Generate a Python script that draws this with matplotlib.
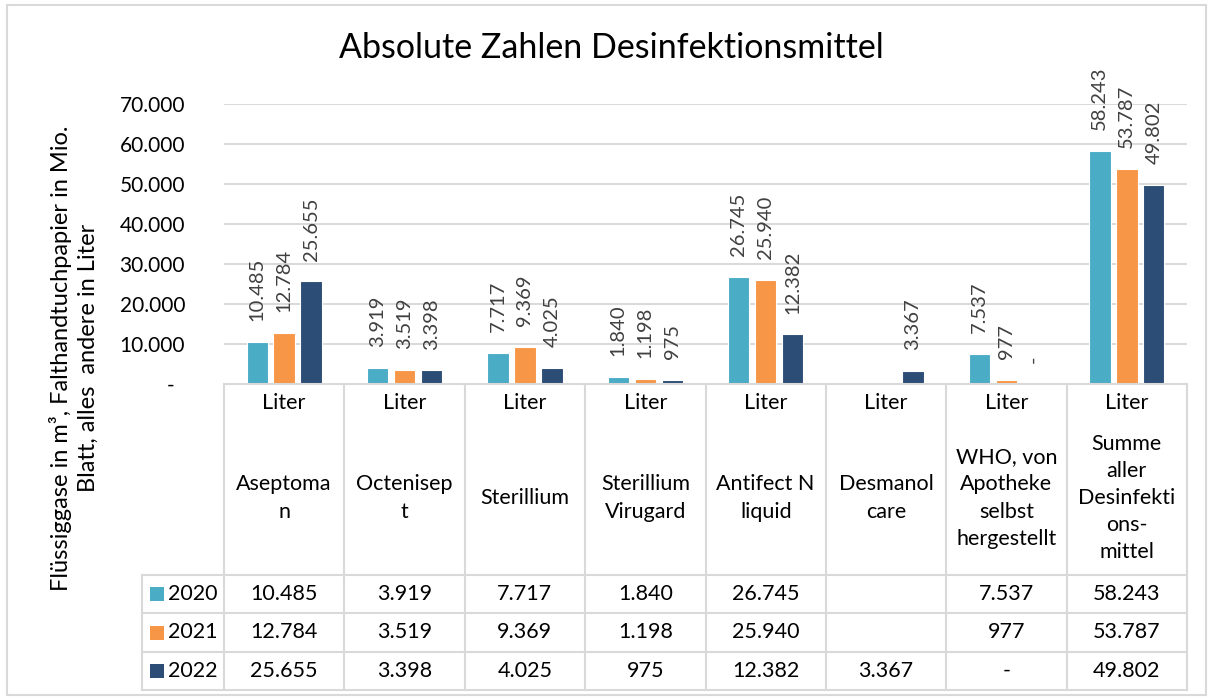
import matplotlib
matplotlib.use("Agg")
import matplotlib.pyplot as plt
from matplotlib.lines import Line2D
from matplotlib.patches import Rectangle
import matplotlib.transforms as mtransforms
from matplotlib.ticker import FuncFormatter, MultipleLocator

plt.rcParams['font.family'] = ['Lato', 'DejaVu Sans']

# data
units = ["Liter"] * 8
products = ["Aseptoma\nn", "Octenisep\nt", "Sterillium", "Sterillium\nVirugard",
            "Antifect N\nliquid", "Desmanol\ncare",
            "WHO, von\nApotheke\nselbst\nhergestellt",
            "Summe\naller\nDesinfekti\nons-\nmittel"]
years = ["2020", "2021", "2022"]
v2020 = [10485, 3919, 7717, 1840, 26745, None, 7537, 58243]
v2021 = [12784, 3519, 9369, 1198, 25940, None, 977, 53787]
v2022 = [25655, 3398, 4025, 975, 12382, 3367, 0, 49802]
series = [v2020, v2021, v2022]

COLORS = ['#4BACC6', '#F79646', '#2C4D75']
GRID = '#D9D9D9'
W, H = 1212, 700


def fmt(v):
    if v is None:
        return ""
    if v == 0:
        return "-"
    return f"{v:,}".replace(",", ".")


def fy(px):  # pixel row -> figure fraction
    return 1 - px / H


fig = plt.figure(figsize=(W / 100, H / 100), dpi=100)
ax = fig.add_axes([224 / W, fy(384), (1187 - 224) / W, (384 - 104) / H])

n = len(products)
xs = list(range(n))
offsets = [-0.224, 0.0, 0.224]
for vals, off, col in zip(series, offsets, COLORS):
    for x, v in zip(xs, vals):
        if v is None:
            continue
        ax.bar(x + off, v, width=0.178, color=col, edgecolor='white', linewidth=0.8, zorder=3)
        ax.annotate(fmt(v), (x + off, v), xytext=(0, 15), textcoords='offset points',
                    rotation=90, ha='center', va='bottom', fontsize=14.5, color='#404040')

ax.set_xlim(-0.5, n - 0.5)
ax.set_ylim(0, 70000)
ax.yaxis.set_major_locator(MultipleLocator(10000))
ax.yaxis.set_major_formatter(FuncFormatter(lambda v, p: "-  " if v == 0 else fmt(int(v))))
ax.tick_params(axis='y', length=0, pad=28, labelsize=15)
ax.set_xticks([])
ax.grid(axis='y', color=GRID, linewidth=1.4, zorder=0)
for s in ax.spines.values():
    s.set_visible(False)

fig.text(611 / W, fy(48), "Absolute Zahlen Desinfektionsmittel", ha='center', va='center',
         fontsize=24.5)
fig.text(74 / W, fy(358), "Flüssiggase in m³, Falthandtuchpapier in Mio.\nBlatt, alles  andere in Liter",
         rotation=90, ha='center', va='center', fontsize=17, linespacing=1.35)

# data table below the plot
tr = mtransforms.blended_transform_factory(ax.transData, fig.transFigure)
lk = dict(color=GRID, linewidth=1.5, zorder=5)
top = fy(384)
row_lines = [fy(575), fy(613), fy(652), fy(690)]

fig.add_artist(Line2D([-0.5, n - 0.5], [top, top], transform=tr, **lk))
for i in range(n + 1):
    fig.add_artist(Line2D([i - 0.5, i - 0.5], [top, row_lines[-1]], transform=tr, **lk))
for yl in row_lines:
    fig.add_artist(Line2D([142 / W, 1187 / W], [yl, yl], transform=fig.transFigure, **lk))
fig.add_artist(Line2D([142 / W, 142 / W], [row_lines[0], row_lines[-1]],
                      transform=fig.transFigure, **lk))

for x, u, p in zip(xs, units, products):
    fig.text(x, fy(403), u, transform=tr, ha='center', va='center', fontsize=15.5)
    fig.text(x, fy(498), p, transform=tr, ha='center', va='center', fontsize=15.5,
             linespacing=1.45)

for r, (yr, vals, col) in enumerate(zip(years, series, COLORS)):
    yc = (row_lines[r] + row_lines[r + 1]) / 2
    fig.add_artist(Rectangle((150 / W, yc - 7 / H), 14 / W, 14 / H, transform=fig.transFigure,
                             facecolor=col, edgecolor='none'))
    fig.text(168 / W, yc, yr, ha='left', va='center', fontsize=15.5)
    for x, v in zip(xs, vals):
        fig.text(x, yc, fmt(v), transform=tr, ha='center', va='center', fontsize=15.5)

# outer chart border
fig.add_artist(Rectangle((7 / W, 5 / H), (1206 - 7) / W, (695 - 5) / H, transform=fig.transFigure,
                         fill=False, edgecolor=GRID, linewidth=1.5))

fig.savefig("out.png", dpi=100, facecolor='white')
